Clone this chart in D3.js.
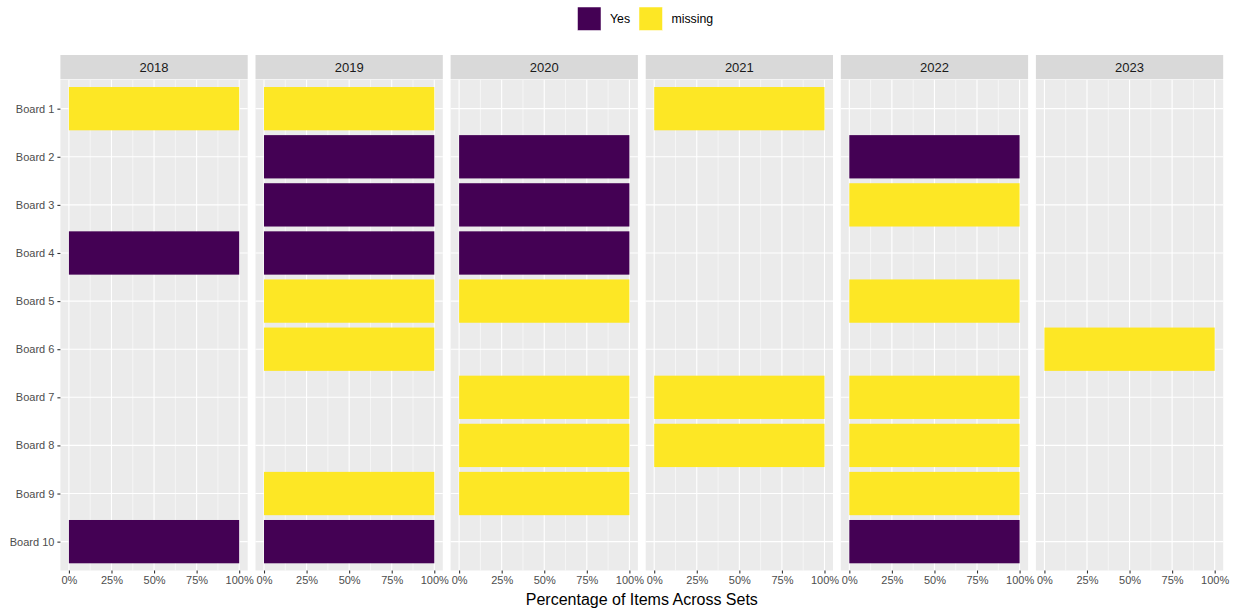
<!DOCTYPE html>
<html>
<head>
<meta charset="utf-8">
<script src="https://cdn.jsdelivr.net/npm/d3@7"></script>
<style>
  html, body { margin: 0; padding: 0; background: #fff; }
  svg { display: block; font-family: "Liberation Sans", Arial, sans-serif; }
</style>
</head>
<body>
<svg id="chart" width="1240" height="609"></svg>
<script>
// Facet years and board rows
const years = ["2018", "2019", "2020", "2021", "2022", "2023"];
const boards = ["Board 1", "Board 2", "Board 3", "Board 4", "Board 5",
                "Board 6", "Board 7", "Board 8", "Board 9", "Board 10"];
const statuses = ["Yes", "missing"];
const statusColors = ["#440154", "#FDE725"];
const xTicks = [0, 0.25, 0.5, 0.75, 1];

// Per-year responses: [board, status, share of items]
const set2018 = [["Board 1", "missing", 1], ["Board 4", "Yes", 1], ["Board 10", "Yes", 1]];
const set2019 = [["Board 1", "missing", 1], ["Board 2", "Yes", 1], ["Board 3", "Yes", 1],
                 ["Board 4", "Yes", 1], ["Board 5", "missing", 1], ["Board 6", "missing", 1],
                 ["Board 9", "missing", 1], ["Board 10", "Yes", 1]];
const set2020 = [["Board 2", "Yes", 1], ["Board 3", "Yes", 1], ["Board 4", "Yes", 1],
                 ["Board 5", "missing", 1], ["Board 7", "missing", 1], ["Board 8", "missing", 1],
                 ["Board 9", "missing", 1]];
const set2021 = [["Board 1", "missing", 1], ["Board 7", "missing", 1], ["Board 8", "missing", 1]];
const set2022 = [["Board 2", "Yes", 1], ["Board 3", "missing", 1], ["Board 5", "missing", 1],
                 ["Board 7", "missing", 1], ["Board 8", "missing", 1], ["Board 9", "missing", 1],
                 ["Board 10", "Yes", 1]];
const set2023 = [["Board 6", "missing", 1]];
const setsByYear = [set2018, set2019, set2020, set2021, set2022, set2023];

const svg = d3.select("#chart");
const color = d3.scaleOrdinal().domain(statuses).range(statusColors);

// Layout
const panelLeft = 60.4, panelW = 187.3, gap = 7.8;
const panelTop = 79.8, panelBottom = 570.5;
const stripTop = 55, stripBottom = 79.2;

// Discrete y axis with 0.6-unit expansion on each side
const yPos = d3.scalePoint().domain(boards).padding(0.6)
  .range([panelTop, panelBottom]);
const step = yPos.step();
const barH = step * 0.9;

years.forEach((yr, i) => {
  const x0 = panelLeft + i * (panelW + gap);
  const exp = panelW / 1.1 * 0.05;
  const x = d3.scaleLinear().domain([0, 1]).range([x0 + exp, x0 + panelW - exp]);
  const g = svg.append("g");

  // strip
  g.append("rect").attr("x", x0).attr("y", stripTop).attr("width", panelW)
    .attr("height", stripBottom - stripTop).attr("fill", "#D9D9D9");
  g.append("text").attr("x", x0 + panelW / 2).attr("y", (stripTop + stripBottom) / 2 + 4.6)
    .attr("text-anchor", "middle").attr("font-size", 13).attr("fill", "#1A1A1A").text(yr);

  // panel background
  g.append("rect").attr("x", x0).attr("y", panelTop).attr("width", panelW)
    .attr("height", panelBottom - panelTop).attr("fill", "#EBEBEB");

  // minor grid
  const minor = [0.125, 0.375, 0.625, 0.875];
  g.selectAll(".minor").data(minor).join("line")
    .attr("x1", d => x(d)).attr("x2", d => x(d))
    .attr("y1", panelTop).attr("y2", panelBottom)
    .attr("stroke", "#fff").attr("stroke-width", 0.55);
  // major grid
  g.selectAll(".majx").data(xTicks).join("line")
    .attr("x1", d => x(d)).attr("x2", d => x(d))
    .attr("y1", panelTop).attr("y2", panelBottom)
    .attr("stroke", "#fff").attr("stroke-width", 1.1);
  g.selectAll(".majy").data(boards).join("line")
    .attr("x1", x0).attr("x2", x0 + panelW)
    .attr("y1", d => yPos(d)).attr("y2", d => yPos(d))
    .attr("stroke", "#fff").attr("stroke-width", 1.1);

  // bars
  const rows = setsByYear[i].map(([board, status, value]) => ({ board, status, value }));
  g.selectAll(".bar").data(rows).join("rect")
    .attr("x", x(0)).attr("width", d => x(d.value) - x(0))
    .attr("y", d => yPos(d.board) - barH / 2).attr("height", barH)
    .attr("fill", d => color(d.status));

  // x axis
  const ax = g.append("g").attr("transform", `translate(0,${panelBottom})`)
    .call(d3.axisBottom(x).tickValues(xTicks).tickFormat(d3.format(".0%"))
      .tickSizeInner(3).tickSizeOuter(0).tickPadding(3));
  ax.select(".domain").remove();
  ax.selectAll("line").attr("stroke", "#333").attr("stroke-width", 1.1);
  ax.selectAll("text").attr("fill", "#4D4D4D").attr("font-size", 11)
    .attr("font-family", "Liberation Sans, Arial, sans-serif");

  // y axis on first panel
  if (i === 0) {
    const ay = svg.append("g").attr("transform", `translate(${x0},0)`)
      .call(d3.axisLeft(yPos).tickSizeInner(3).tickSizeOuter(0).tickPadding(3));
    ay.select(".domain").remove();
    ay.selectAll("line").attr("stroke", "#333").attr("stroke-width", 1.1);
    ay.selectAll("text").attr("fill", "#4D4D4D").attr("font-size", 11)
      .attr("font-family", "Liberation Sans, Arial, sans-serif");
  }
});

// axis title
svg.append("text").attr("x", panelLeft + (6 * panelW + 5 * gap) / 2).attr("y", 605)
  .attr("text-anchor", "middle").attr("font-size", 16).attr("fill", "#000")
  .text("Percentage of Items Across Sets");

// legend
const legend = svg.append("g");
const legendItems = [
  { key: "Yes", x: 577.5 },
  { key: "missing", x: 639 }
];
legendItems.forEach(it => {
  legend.append("rect").attr("x", it.x).attr("y", 7).attr("width", 23.5).attr("height", 23.5)
    .attr("fill", color(it.key)).attr("stroke", "#fff").attr("stroke-width", 0.5);
  legend.append("text").attr("x", it.x + 32.5).attr("y", 23.3)
    .attr("font-size", 12.3).attr("fill", "#000").text(it.key);
});
</script>
</body>
</html>
